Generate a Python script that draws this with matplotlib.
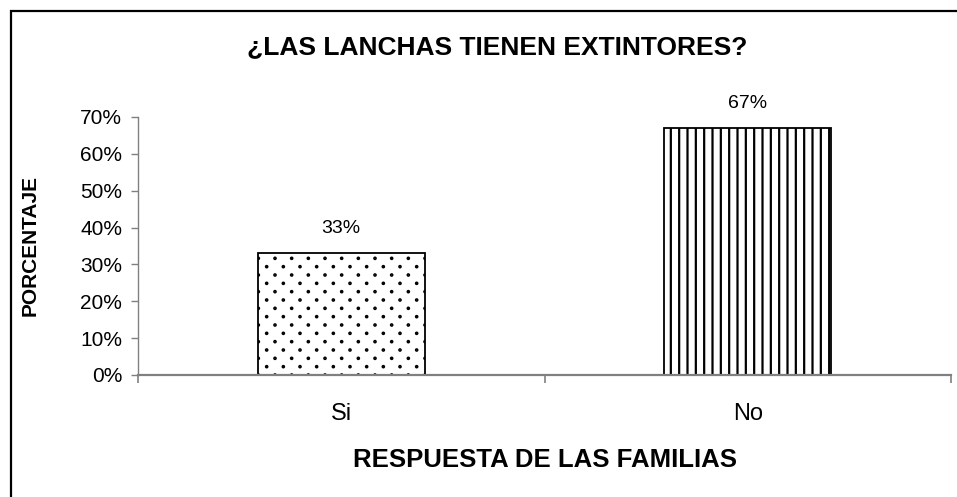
import numpy as np
import matplotlib
matplotlib.use("Agg")
import matplotlib.pyplot as plt
import matplotlib.hatch as mhatch
from matplotlib.path import Path
from matplotlib.patches import Rectangle
from matplotlib.ticker import PercentFormatter

# data
categories = ["Si", "No"]
values = [0.33, 0.67]
value_labels = ["33%", "67%"]
hatches = [".", "||"]

plt.rcParams['font.family'] = ['Liberation Sans', 'DejaVu Sans']
plt.rcParams['hatch.linewidth'] = 1.6


# finer, staggered dot pattern like the Excel "small confetti" fill
class SparseDots(mhatch.HatchPatternBase):
    def __init__(self, hatch, density):
        self.n = hatch.count('.') * density
        circ = Path.unit_circle()
        self.shape_vertices = circ.vertices * 0.007
        self.shape_codes = circ.codes
        self.num_shapes = (self.n + 1) ** 2 + self.n ** 2 if self.n else 0
        self.num_vertices = self.num_shapes * len(self.shape_vertices)

    def set_vertices_and_codes(self, vertices, codes):
        n = self.n
        vparts, cparts = [], []
        for row in range(2 * n + 1):
            if row % 2 == 0:
                cols = np.linspace(0, 1, n + 1)
            else:
                cols = np.linspace(0.5 / n, 1 - 0.5 / n, n)
            for c in cols:
                vparts.append(self.shape_vertices + [c, row / (2 * n)])
                cparts.append(self.shape_codes)
        np.concatenate(vparts, out=vertices)
        np.concatenate(cparts, out=codes)


mhatch._hatch_types = [SparseDots if t is mhatch.SmallFilledCircles else t
                       for t in mhatch._hatch_types]

W, H = 957, 497
fig = plt.figure(figsize=(W / 100, H / 100), dpi=100)

# outer frame (only left and top visible, rest runs off the image)
fig.patches.append(Rectangle((11 / W, -0.1), 1.2, 1 - 11 / H + 0.1, transform=fig.transFigure,
                             fill=False, edgecolor='black', linewidth=1.6))

ax = fig.add_axes([138 / W, 1 - 375 / H, (951 - 138) / W, (375 - 117) / H])

x = np.arange(len(categories))
bars = ax.bar(x, values, width=0.41, color='white', edgecolor='black', linewidth=1.3)
for b, h in zip(bars, hatches):
    b.set_hatch(h)

for xi, v, lab in zip(x, values, value_labels):
    ax.annotate(lab, (xi, v), xytext=(0, 18), textcoords='offset points',
                ha='center', va='center', fontsize=14)

ax.set_ylim(0, 0.7)
ax.set_yticks(np.arange(0, 0.71, 0.1))
ax.yaxis.set_major_formatter(PercentFormatter(1.0, decimals=0))
ax.set_xlim(-0.5, len(categories) - 0.5)

# ticks at category boundaries, labels in the middle
ax.set_xticks(np.arange(-0.5, len(categories), 1.0))
ax.set_xticklabels([])
ax.set_xticks(x, minor=True)
ax.set_xticklabels(categories, minor=True, fontsize=17)
ax.tick_params(axis='x', which='major', direction='out', length=6, width=1.2, color='#808080')
ax.tick_params(axis='x', which='minor', length=0, pad=20)
ax.tick_params(axis='y', direction='out', length=5, width=1.0, color='#808080', labelsize=15, pad=6.5)

for s in ['top', 'right']:
    ax.spines[s].set_visible(False)
ax.spines['left'].set_color('#808080')
ax.spines['bottom'].set_color('#808080')
ax.spines['left'].set_linewidth(1.0)
ax.spines['bottom'].set_linewidth(1.6)

fig.text(497 / W, 1 - 47 / H, "¿LAS LANCHAS TIENEN EXTINTORES?", ha='center', va='center',
         fontsize=19, fontweight='bold')
fig.text(30 / W, 1 - 245 / H, "PORCENTAJE", ha='center', va='center', rotation=90,
         fontsize=15, fontweight='bold')
fig.text(545 / W, 1 - 460 / H, "RESPUESTA DE LAS FAMILIAS", ha='center', va='center',
         fontsize=18.5, fontweight='bold')

fig.savefig("out.png", dpi=100)
